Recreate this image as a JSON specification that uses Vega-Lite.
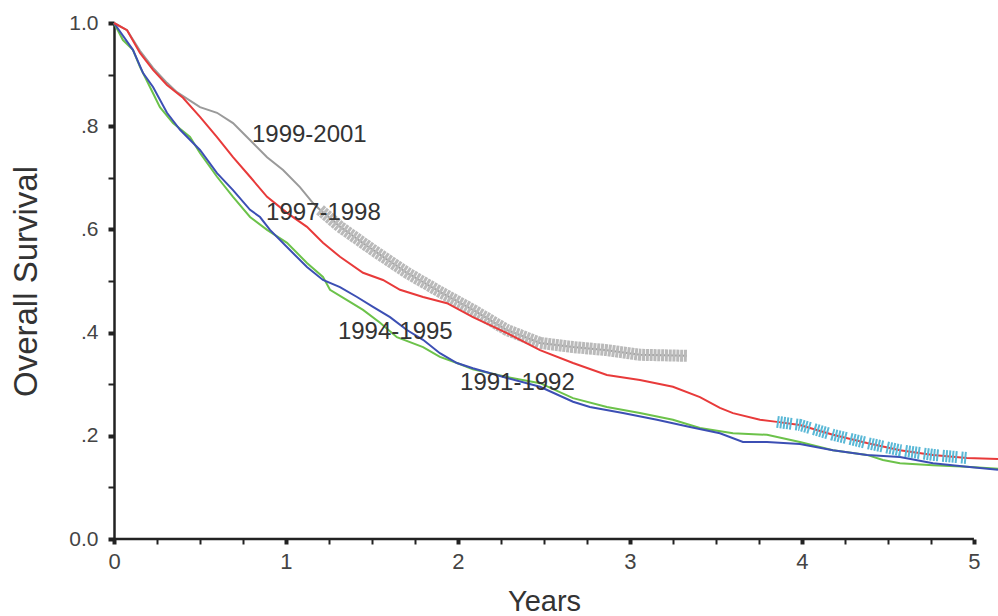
{
  "$schema": "https://vega.github.io/schema/vega-lite/v6.json",
  "width": 884,
  "height": 516,
  "autosize": {"type": "none"},
  "padding": {"left": 114, "top": 23, "right": 0, "bottom": 77},
  "background": "white",
  "config": {"view": {"stroke": null}, "font": "Liberation Sans"},
  "datasets": {
    "curves": [
      {"g": "1997-1998", "t": 0, "s": 1.0},
      {"g": "1997-1998", "t": 0.076, "s": 0.986},
      {"g": "1997-1998", "t": 0.151, "s": 0.942},
      {"g": "1997-1998", "t": 0.227, "s": 0.909},
      {"g": "1997-1998", "t": 0.308, "s": 0.88},
      {"g": "1997-1998", "t": 0.401, "s": 0.855},
      {"g": "1997-1998", "t": 0.5, "s": 0.818},
      {"g": "1997-1998", "t": 0.599, "s": 0.779},
      {"g": "1997-1998", "t": 0.692, "s": 0.74},
      {"g": "1997-1998", "t": 0.791, "s": 0.702},
      {"g": "1997-1998", "t": 0.89, "s": 0.663},
      {"g": "1997-1998", "t": 1.006, "s": 0.632},
      {"g": "1997-1998", "t": 1.122, "s": 0.605},
      {"g": "1997-1998", "t": 1.215, "s": 0.574},
      {"g": "1997-1998", "t": 1.314, "s": 0.547},
      {"g": "1997-1998", "t": 1.448, "s": 0.516},
      {"g": "1997-1998", "t": 1.564, "s": 0.502},
      {"g": "1997-1998", "t": 1.663, "s": 0.483},
      {"g": "1997-1998", "t": 1.797, "s": 0.469},
      {"g": "1997-1998", "t": 1.936, "s": 0.457},
      {"g": "1997-1998", "t": 2.087, "s": 0.43},
      {"g": "1997-1998", "t": 2.285, "s": 0.399},
      {"g": "1997-1998", "t": 2.477, "s": 0.366},
      {"g": "1997-1998", "t": 2.669, "s": 0.341},
      {"g": "1997-1998", "t": 2.866, "s": 0.318},
      {"g": "1997-1998", "t": 3.058, "s": 0.308},
      {"g": "1997-1998", "t": 3.25, "s": 0.295},
      {"g": "1997-1998", "t": 3.407, "s": 0.275},
      {"g": "1997-1998", "t": 3.523, "s": 0.254},
      {"g": "1997-1998", "t": 3.599, "s": 0.244},
      {"g": "1997-1998", "t": 3.756, "s": 0.231},
      {"g": "1997-1998", "t": 3.855, "s": 0.227},
      {"g": "1997-1998", "t": 3.988, "s": 0.221},
      {"g": "1997-1998", "t": 4.18, "s": 0.202},
      {"g": "1997-1998", "t": 4.378, "s": 0.186},
      {"g": "1997-1998", "t": 4.57, "s": 0.172},
      {"g": "1997-1998", "t": 4.762, "s": 0.163},
      {"g": "1997-1998", "t": 4.959, "s": 0.157},
      {"g": "1997-1998", "t": 5.14, "s": 0.155},

      {"g": "1999-2001", "t": 0, "s": 1.0},
      {"g": "1999-2001", "t": 0.076, "s": 0.986},
      {"g": "1999-2001", "t": 0.151, "s": 0.946},
      {"g": "1999-2001", "t": 0.227, "s": 0.913},
      {"g": "1999-2001", "t": 0.308, "s": 0.884},
      {"g": "1999-2001", "t": 0.366, "s": 0.866},
      {"g": "1999-2001", "t": 0.5, "s": 0.837},
      {"g": "1999-2001", "t": 0.599, "s": 0.826},
      {"g": "1999-2001", "t": 0.692, "s": 0.806},
      {"g": "1999-2001", "t": 0.773, "s": 0.779},
      {"g": "1999-2001", "t": 0.89, "s": 0.74},
      {"g": "1999-2001", "t": 0.983, "s": 0.715},
      {"g": "1999-2001", "t": 1.081, "s": 0.682},
      {"g": "1999-2001", "t": 1.157, "s": 0.651},
      {"g": "1999-2001", "t": 1.198, "s": 0.638},
      {"g": "1999-2001", "t": 1.314, "s": 0.605},
      {"g": "1999-2001", "t": 1.506, "s": 0.56},
      {"g": "1999-2001", "t": 1.703, "s": 0.516},
      {"g": "1999-2001", "t": 1.895, "s": 0.479},
      {"g": "1999-2001", "t": 2.087, "s": 0.444},
      {"g": "1999-2001", "t": 2.285, "s": 0.405},
      {"g": "1999-2001", "t": 2.477, "s": 0.38},
      {"g": "1999-2001", "t": 2.669, "s": 0.372},
      {"g": "1999-2001", "t": 2.866, "s": 0.366},
      {"g": "1999-2001", "t": 3.058, "s": 0.357},
      {"g": "1999-2001", "t": 3.331, "s": 0.355},

      {"g": "1994-1995", "t": 0, "s": 1.0},
      {"g": "1994-1995", "t": 0.11, "s": 0.948},
      {"g": "1994-1995", "t": 0.169, "s": 0.903},
      {"g": "1994-1995", "t": 0.227, "s": 0.876},
      {"g": "1994-1995", "t": 0.308, "s": 0.826},
      {"g": "1994-1995", "t": 0.384, "s": 0.793},
      {"g": "1994-1995", "t": 0.5, "s": 0.754},
      {"g": "1994-1995", "t": 0.599, "s": 0.709},
      {"g": "1994-1995", "t": 0.692, "s": 0.676},
      {"g": "1994-1995", "t": 0.791, "s": 0.638},
      {"g": "1994-1995", "t": 0.849, "s": 0.624},
      {"g": "1994-1995", "t": 0.907, "s": 0.599},
      {"g": "1994-1995", "t": 1.023, "s": 0.56},
      {"g": "1994-1995", "t": 1.122, "s": 0.527},
      {"g": "1994-1995", "t": 1.215, "s": 0.502},
      {"g": "1994-1995", "t": 1.314, "s": 0.488},
      {"g": "1994-1995", "t": 1.413, "s": 0.469},
      {"g": "1994-1995", "t": 1.506, "s": 0.45},
      {"g": "1994-1995", "t": 1.605, "s": 0.43},
      {"g": "1994-1995", "t": 1.703, "s": 0.405},
      {"g": "1994-1995", "t": 1.797, "s": 0.386},
      {"g": "1994-1995", "t": 1.895, "s": 0.36},
      {"g": "1994-1995", "t": 1.994, "s": 0.341},
      {"g": "1994-1995", "t": 2.087, "s": 0.331},
      {"g": "1994-1995", "t": 2.285, "s": 0.312},
      {"g": "1994-1995", "t": 2.477, "s": 0.295},
      {"g": "1994-1995", "t": 2.669, "s": 0.266},
      {"g": "1994-1995", "t": 2.767, "s": 0.256},
      {"g": "1994-1995", "t": 2.959, "s": 0.244},
      {"g": "1994-1995", "t": 3.157, "s": 0.231},
      {"g": "1994-1995", "t": 3.349, "s": 0.217},
      {"g": "1994-1995", "t": 3.523, "s": 0.205},
      {"g": "1994-1995", "t": 3.657, "s": 0.188},
      {"g": "1994-1995", "t": 3.797, "s": 0.188},
      {"g": "1994-1995", "t": 3.988, "s": 0.184},
      {"g": "1994-1995", "t": 4.18, "s": 0.172},
      {"g": "1994-1995", "t": 4.378, "s": 0.163},
      {"g": "1994-1995", "t": 4.57, "s": 0.159},
      {"g": "1994-1995", "t": 4.762, "s": 0.147},
      {"g": "1994-1995", "t": 4.959, "s": 0.14},
      {"g": "1994-1995", "t": 5.14, "s": 0.134},

      {"g": "1991-1992", "t": 0, "s": 1.0},
      {"g": "1991-1992", "t": 0.052, "s": 0.967},
      {"g": "1991-1992", "t": 0.11, "s": 0.948},
      {"g": "1991-1992", "t": 0.151, "s": 0.915},
      {"g": "1991-1992", "t": 0.209, "s": 0.876},
      {"g": "1991-1992", "t": 0.267, "s": 0.837},
      {"g": "1991-1992", "t": 0.343, "s": 0.806},
      {"g": "1991-1992", "t": 0.442, "s": 0.779},
      {"g": "1991-1992", "t": 0.5, "s": 0.748},
      {"g": "1991-1992", "t": 0.599, "s": 0.702},
      {"g": "1991-1992", "t": 0.692, "s": 0.663},
      {"g": "1991-1992", "t": 0.791, "s": 0.624},
      {"g": "1991-1992", "t": 0.89, "s": 0.599},
      {"g": "1991-1992", "t": 1.006, "s": 0.574},
      {"g": "1991-1992", "t": 1.122, "s": 0.535},
      {"g": "1991-1992", "t": 1.215, "s": 0.508},
      {"g": "1991-1992", "t": 1.256, "s": 0.483},
      {"g": "1991-1992", "t": 1.355, "s": 0.463},
      {"g": "1991-1992", "t": 1.448, "s": 0.444},
      {"g": "1991-1992", "t": 1.547, "s": 0.419},
      {"g": "1991-1992", "t": 1.645, "s": 0.391},
      {"g": "1991-1992", "t": 1.797, "s": 0.372},
      {"g": "1991-1992", "t": 1.895, "s": 0.353},
      {"g": "1991-1992", "t": 1.994, "s": 0.341},
      {"g": "1991-1992", "t": 2.087, "s": 0.329},
      {"g": "1991-1992", "t": 2.285, "s": 0.314},
      {"g": "1991-1992", "t": 2.477, "s": 0.302},
      {"g": "1991-1992", "t": 2.669, "s": 0.273},
      {"g": "1991-1992", "t": 2.866, "s": 0.256},
      {"g": "1991-1992", "t": 3.058, "s": 0.244},
      {"g": "1991-1992", "t": 3.25, "s": 0.231},
      {"g": "1991-1992", "t": 3.407, "s": 0.215},
      {"g": "1991-1992", "t": 3.599, "s": 0.205},
      {"g": "1991-1992", "t": 3.797, "s": 0.202},
      {"g": "1991-1992", "t": 3.988, "s": 0.188},
      {"g": "1991-1992", "t": 4.18, "s": 0.172},
      {"g": "1991-1992", "t": 4.378, "s": 0.163},
      {"g": "1991-1992", "t": 4.471, "s": 0.153},
      {"g": "1991-1992", "t": 4.57, "s": 0.147},
      {"g": "1991-1992", "t": 4.762, "s": 0.143},
      {"g": "1991-1992", "t": 4.959, "s": 0.14},
      {"g": "1991-1992", "t": 5.14, "s": 0.136}
    ],
    "labels": [
      {"label": "1999-2001", "t": 0.802, "s": 0.783},
      {"label": "1997-1998", "t": 0.884, "s": 0.632},
      {"label": "1994-1995", "t": 1.302, "s": 0.401},
      {"label": "1991-1992", "t": 2.012, "s": 0.302}
    ]
  },
  "layer": [
    {
      "data": {"name": "curves"},
      "transform": [{"filter": "datum.g == '1999-2001'"}],
      "mark": {"type": "line", "strokeWidth": 2, "color": "#9a9a9a"},
      "encoding": {
        "x": {
          "field": "t",
          "type": "quantitative",
          "scale": {"domain": [0, 5.14], "nice": false, "zero": false},
          "axis": {
            "title": "Years",
            "values": [0, 0.25, 0.5, 0.75, 1, 1.25, 1.5, 1.75, 2, 2.25, 2.5, 2.75, 3, 3.25, 3.5, 3.75, 4, 4.25, 4.5, 4.75, 5],
            "grid": false,
            "domain": false,
            "labelExpr": "datum.value % 1 == 0 ? format(datum.value, 'd') : ''",
            "labelFontSize": 22,
            "labelColor": "#444",
            "labelPadding": 7,
            "labelFlush": false,
            "tickSize": 5,
            "tickColor": "#222",
            "tickWidth": {"condition": {"test": "datum.value % 1 == 0", "value": 4}, "value": 2},
            "titleFontSize": 29,
            "titleFontWeight": "normal",
            "titleColor": "#333",
            "titleX": 430,
            "titleY": 71,
            "titleAlign": "center",
            "titleBaseline": "alphabetic"
          }
        },
        "y": {
          "field": "s",
          "type": "quantitative",
          "scale": {"domain": [0, 1], "nice": false},
          "axis": {
            "title": "Overall Survival",
            "values": [0, 0.1, 0.2, 0.3, 0.4, 0.5, 0.6, 0.7, 0.8, 0.9, 1],
            "grid": false,
            "domainColor": "#222",
            "domainWidth": 2.5,
            "labelExpr": "abs(datum.value * 5 - round(datum.value * 5)) < 0.01 ? (datum.value < 0.05 ? '0.0' : (datum.value > 0.95 ? '1.0' : replace(format(datum.value, '.1f'), '0.', '.'))) : ''",
            "labelFontSize": 21,
            "labelColor": "#444",
            "labelPadding": 10,
            "tickSize": 6,
            "tickColor": "#222",
            "tickWidth": {"condition": {"test": "abs(datum.value * 5 - round(datum.value * 5)) < 0.01", "value": 4}, "value": 2},
            "titleFontSize": 33,
            "titleFontWeight": "normal",
            "titleColor": "#333",
            "titleX": -78,
            "titleY": 258,
            "titleAlign": "center",
            "titleBaseline": "alphabetic"
          }
        }
      }
    },
    {
      "data": {"name": "curves"},
      "transform": [{"filter": "datum.g == '1999-2001' && datum.t >= 1.19"}],
      "mark": {"type": "line", "strokeWidth": 12, "color": "#bababa", "strokeDash": [3, 0.8]},
      "encoding": {
        "x": {"field": "t", "type": "quantitative"},
        "y": {"field": "s", "type": "quantitative"}
      }
    },
    {
      "data": {"name": "curves"},
      "transform": [{"filter": "datum.g == '1991-1992'"}],
      "mark": {"type": "line", "strokeWidth": 2, "color": "#6cc24a"},
      "encoding": {
        "x": {"field": "t", "type": "quantitative"},
        "y": {"field": "s", "type": "quantitative"}
      }
    },
    {
      "data": {"name": "curves"},
      "transform": [{"filter": "datum.g == '1994-1995'"}],
      "mark": {"type": "line", "strokeWidth": 2, "color": "#3c4fb4"},
      "encoding": {
        "x": {"field": "t", "type": "quantitative"},
        "y": {"field": "s", "type": "quantitative"}
      }
    },
    {
      "data": {"name": "curves"},
      "transform": [{"filter": "datum.g == '1997-1998'"}],
      "mark": {"type": "line", "strokeWidth": 2, "color": "#e83a3a"},
      "encoding": {
        "x": {"field": "t", "type": "quantitative"},
        "y": {"field": "s", "type": "quantitative"}
      }
    },
    {
      "data": {"name": "curves"},
      "transform": [{"filter": "datum.g == '1997-1998' && datum.t >= 3.85 && datum.t <= 4.97"}],
      "mark": {"type": "line", "strokeWidth": 12, "color": "#5ab8d6", "strokeDash": [2, 1.2, 2, 1.2, 2, 1.2, 2, 1.2, 2, 4]},
      "encoding": {
        "x": {"field": "t", "type": "quantitative"},
        "y": {"field": "s", "type": "quantitative"}
      }
    },
    {
      "data": {"name": "labels"},
      "mark": {"type": "text", "align": "left", "baseline": "middle", "fontSize": 24, "color": "#333", "font": "Liberation Sans"},
      "encoding": {
        "x": {"field": "t", "type": "quantitative"},
        "y": {"field": "s", "type": "quantitative"},
        "text": {"field": "label"}
      }
    },
    {
      "data": {"values": [{"a": 1}]},
      "mark": {"type": "rule", "color": "#222", "strokeWidth": 2.5},
      "encoding": {
        "x": {"datum": 0, "type": "quantitative"},
        "x2": {"datum": 5},
        "y": {"datum": 0, "type": "quantitative"}
      }
    }
  ]
}
